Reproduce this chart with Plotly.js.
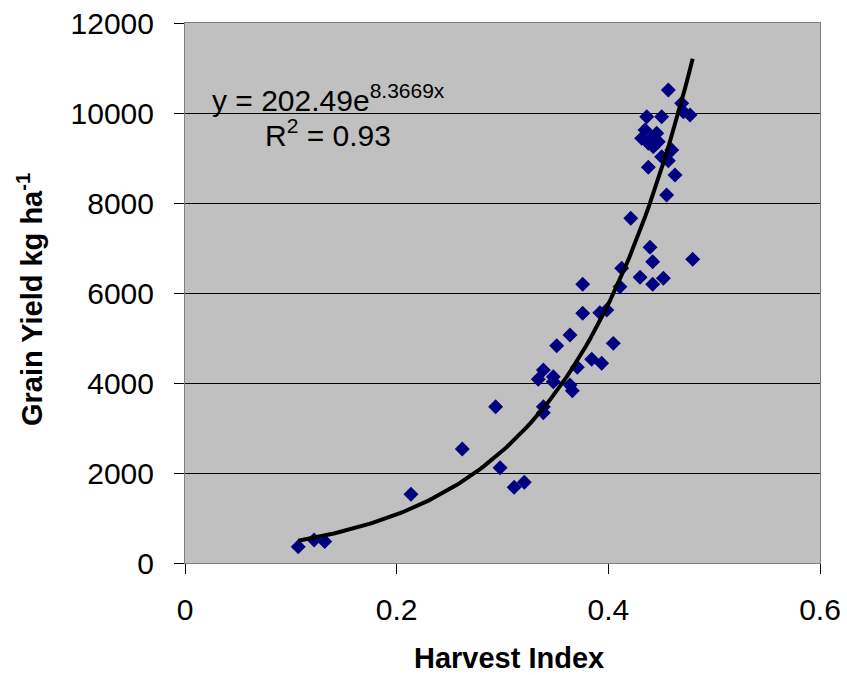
<!DOCTYPE html>
<html><head><meta charset="utf-8">
<script src="https://cdn.plot.ly/plotly-3.0.1.min.js"></script>
<style>body{margin:0;background:#fff}#c{width:847px;height:675px}</style>
</head><body><div id="c"></div>
<script>
const harvestIndex = [0.107,0.122,0.132,0.2135,0.262,0.2935,0.2977,0.311,0.3206,0.3338,0.3386,0.3386,0.3386,0.348,0.348,0.3638,0.366,0.3707,0.3512,0.3638,0.3843,0.3937,0.4047,0.3758,0.392,0.3985,0.3758,0.411,0.4126,0.43,0.4419,0.452,0.4394,0.4419,0.4797,0.4212,0.4551,0.463,0.4378,0.4567,0.4504,0.4599,0.4472,0.4378,0.4425,0.441,0.4315,0.4457,0.4347,0.4709,0.4772,0.4693,0.4504,0.4363,0.4567];
const grainYield = [360,510,480,1527,2533,3474,2118,1682,1793,4082,3474,3340,4289,4140,4030,3956,3830,4348,4830,5067,4526,4437,4881,5548,5563,5622,6193,6141,6548,6348,6193,6326,7015,6696,6748,7660,8178,8622,8793,8940,9029,9178,9363,9326,9252,9437,9437,9548,9622,10029,9955,10215,9918,9918,10511];
const fitA = 202.49, fitB = 8.3669, fitR2 = 0.93;
const xTicks = [0,0.2,0.4,0.6], xTickText = ["0","0.2","0.4","0.6"];
const yTicks = [0,2000,4000,6000,8000,10000,12000];
const yTickText = ["0","2000","4000","6000","8000","10000","12000"];

const xmin = Math.min(...harvestIndex), xmax = Math.max(...harvestIndex);
const tx = [], ty = [];
for (let i = 0; i <= 100; i++) { const x = xmin + (xmax - xmin) * i / 100; tx.push(x); ty.push(fitA * Math.exp(fitB * x)); }

const font = {family: 'Arial, "Liberation Sans", sans-serif', color: '#000'};
const f = s => Object.assign({size: s}, font);
Plotly.newPlot('c', [
  {x: harvestIndex, y: grainYield, mode: 'markers', type: 'scatter',
   marker: {symbol: 'diamond', size: 11.5, color: '#000080'}, hoverinfo: 'none'},
  {x: tx, y: ty, mode: 'lines', type: 'scatter', line: {color: '#000', width: 4}, hoverinfo: 'none'}
], {
  width: 847, height: 675, showlegend: false,
  paper_bgcolor: '#fff', plot_bgcolor: '#c0c0c0',
  margin: {l: 185, r: 27, t: 23, b: 112},
  font: f(30),
  xaxis: {range: [0, 0.6], tickvals: xTicks, ticktext: xTickText, ticks: 'outside', ticklen: 10, tickcolor: '#000',
    ticklabelstandoff: 10,
    showgrid: false, zeroline: false, showline: true, linecolor: '#808080', linewidth: 1, mirror: true,
    tickfont: f(30)},
  yaxis: {range: [0, 12000], tickvals: yTicks, ticktext: yTickText, ticks: 'outside', ticklen: 10, tickcolor: '#000',
    ticklabelstandoff: 14,
    showgrid: true, gridcolor: '#000', gridwidth: 1, zeroline: false, showline: true, linecolor: '#808080', linewidth: 1, mirror: true,
    tickfont: f(30)},
  annotations: [
    {xref: 'paper', yref: 'paper', x: 0.51, y: -0.176, xanchor: 'center', yanchor: 'middle', showarrow: false,
     text: '<b>Harvest Index</b>', font: f(29)},
    {xref: 'paper', yref: 'paper', x: -0.244, y: 0.487, xanchor: 'center', yanchor: 'middle', showarrow: false, textangle: -90,
     text: '<b>Grain Yield kg ha<sup>-1</sup></b>', font: f(29)},
    {xref: 'paper', yref: 'paper', x: 0.0394, y: 0.861, xanchor: 'left', yanchor: 'middle', showarrow: false,
     text: 'y = ' + fitA.toFixed(2) + 'e<sup>' + fitB.toFixed(4) + 'x</sup>', font: f(30)},
    {xref: 'paper', yref: 'paper', x: 0.123, y: 0.797, xanchor: 'left', yanchor: 'middle', showarrow: false,
     text: 'R<sup>2</sup> = ' + fitR2.toFixed(2), font: f(30)}
  ]
}, {staticPlot: true});
</script></body></html>
